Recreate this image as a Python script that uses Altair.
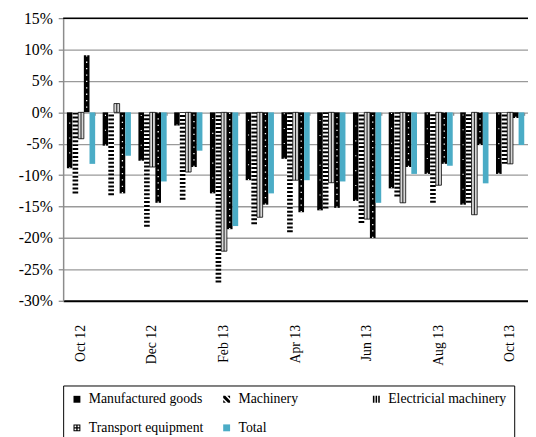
import altair as alt
import pandas as pd

months = ["Oct 12", "Nov 12", "Dec 12", "Jan 13", "Feb 13", "Mar 13", "Apr 13",
          "May 13", "Jun 13", "Jul 13", "Aug 13", "Sep 13", "Oct 13"]
series = ["Manufactured goods", "Machinery", "Electricial machinery",
          "Transport equipment", "Total"]
manufactured = [-8.9, -5.3, -7.7, -2.1, -12.9, -10.8, -7.4, -15.6, -14.1, -12.1, -9.8, -14.7, -9.8]
machinery = [-12.9, -13.2, -18.2, -13.9, -27.1, -17.8, -19.1, -15.3, -17.6, -13.4, -14.4, -14.4, -8.2]
electrical = [-4.2, 1.4, -8.7, -9.5, -22.1, -16.7, -10.8, -11.2, -17.0, -14.4, -11.6, -16.3, -8.2]
transport = [9.1, -12.9, -14.4, -8.7, -18.6, -14.7, -15.9, -15.2, -20.0, -8.7, -8.2, -5.2, -0.9]
total = [-8.2, -6.9, -11.0, -6.1, -18.1, -12.9, -10.8, -11.0, -14.4, -9.8, -8.5, -11.3, -5.2]
y_ticks = [-30, -25, -20, -15, -10, -5, 0, 5, 10, 15]
x_labels = months[::2]

rows = []
for name, vals in zip(series, [manufactured, machinery, electrical, transport, total]):
    for m, v in zip(months, vals):
        rows.append({"month": m, "series": name, "value": v, "base": 0})
df = pd.DataFrame(rows)

W, H = 472, 287
step = W / 13
BW = step * (1 - 0.21) / 5
FONT = "Liberation Serif, Times New Roman, serif"

xscale = alt.Scale(domain=months, paddingInner=0.21, paddingOuter=0.105)
oscale = alt.Scale(domain=series, paddingInner=0, paddingOuter=0)
yscale = alt.Scale(domain=[y_ticks[0], y_ticks[-1]], nice=False, zero=False)

x_main = alt.X("month:N", scale=xscale, title=None,
               axis=alt.Axis(values=x_labels, labelAngle=270, labelPadding=24, tickSize=0,
                             domainColor="black", domainWidth=2, labelFont=FONT,
                             labelFontSize=14, labelColor="black", grid=False))
x_zero = alt.X("month:N", scale=xscale, title=None,
               axis=alt.Axis(values=x_labels, orient="bottom", offset=-(H * 30 / 45),
                             labels=False, domain=False, tickBand="extent", tickSize=3,
                             tickColor="#8c8c8c", tickWidth=1.3, grid=False))
x_plain = alt.X("month:N", scale=xscale, axis=None, title=None)
xo = alt.XOffset("series:N", scale=oscale)
y_axis = alt.Axis(values=y_ticks, labelExpr="datum.value + '%'", title=None,
                  gridColor="#9a9a9a", gridWidth=1.3, domainColor="#8c8c8c", domainWidth=1.5,
                  tickColor="#8c8c8c", tickSize=5, tickWidth=1.3, labelFont=FONT,
                  labelFontSize=16, labelColor="black", labelPadding=6)
y = alt.Y("value:Q", scale=yscale, axis=y_axis)
y2 = alt.Y2("base:Q")

base = alt.Chart(df)


def sel(name):
    return base.transform_filter(alt.datum.series == name)


mg_bar = sel(series[0]).mark_bar(color="black").encode(x=x_main, xOffset=xo, y=y, y2=y2)
mg_dots = sel(series[0]).mark_rule(color="white", strokeWidth=1.1, strokeDash=[1.1, 14]).encode(
    x=x_plain, xOffset=xo, y=y, y2=y2)

mach_bg = sel(series[1]).mark_bar(color="white").encode(x=x_plain, xOffset=xo, y=y, y2=y2)
mach_st = sel(series[1]).mark_rule(color="black", strokeWidth=BW, strokeDash=[2, 2]).encode(
    x=x_plain, xOffset=xo, y=y, y2=y2)

el_bar = sel(series[2]).mark_bar(fill="#d8d8d8", stroke="black", strokeWidth=0.8).encode(
    x=x_plain, xOffset=xo, y=y, y2=y2)
el_mid = sel(series[2]).mark_rule(color="black", strokeWidth=0.9).encode(
    x=x_plain, xOffset=xo, y=y, y2=y2)

tr_bar = sel(series[3]).mark_bar(color="black").encode(x=x_plain, xOffset=xo, y=y, y2=y2)
tr_dots = sel(series[3]).mark_rule(color="white", strokeWidth=1.3, strokeDash=[1.3, 5.2]).encode(
    x=x_plain, xOffset=xo, y=y, y2=y2)

tot_bar = sel(series[4]).mark_bar(color="#4bacc6").encode(x=x_zero, xOffset=xo, y=y, y2=y2)

top_line = alt.Chart(pd.DataFrame({"value": [y_ticks[-1]]})).mark_rule(
    color="black", strokeWidth=1.5).encode(y=y)

sym_paths = [
    "M-1,-1H1V1H-1Z",
    "M-1,-1L-0.4,-1L1,0.4L1,1L0.4,1L-1,-0.4Z M0.2,-1L1,-1L1,-0.2Z M-1,0.2L-1,1L-0.2,1Z",
    "M-1,-1H-0.55V1H-1Z M-0.22,-1H0.22V1H-0.22Z M0.55,-1H1V1H0.55Z",
    "M-1,-1H1V1H-1Z M-0.7,-0.7V-0.2H-0.2V-0.7Z M0.2,-0.7V-0.2H0.7V-0.7Z "
    "M-0.7,0.2V0.7H-0.2V0.2Z M0.2,0.2V0.7H0.7V0.2Z",
    "M-1,-1H1V1H-1Z",
]
legend = alt.Legend(orient="none", legendX=0, legendY=373, columns=3, direction="horizontal",
                    gridAlign="all", columnPadding=12, rowPadding=15, symbolSize=49,
                    symbolStrokeWidth=0, symbolOpacity=1, labelFont=FONT, labelFontSize=14,
                    labelColor="black", labelOffset=5, strokeColor="black", padding=7,
                    title=None, labelLimit=0)
leg_layer = base.mark_point(opacity=0, filled=True).encode(
    x=x_plain, xOffset=xo, y=y,
    color=alt.Color("series:N", scale=alt.Scale(domain=series,
                    range=["black", "black", "black", "black", "#4bacc6"]), legend=legend),
    shape=alt.Shape("series:N", scale=alt.Scale(domain=series, range=sym_paths), legend=legend),
)

chart = alt.layer(
    mg_bar, mg_dots, mach_bg, mach_st, el_bar, el_mid, tr_bar, tr_dots, tot_bar, top_line, leg_layer
).resolve_axis(x="independent").properties(
    width=W, height=H,
    padding={"left": 56, "top": 7, "right": 0, "bottom": 135},
    autosize=alt.AutoSizeParams(type="none"),
).configure(font=FONT).configure_view(stroke=None)

chart.save("out.html", embed_options={"renderer": "svg", "actions": False})
